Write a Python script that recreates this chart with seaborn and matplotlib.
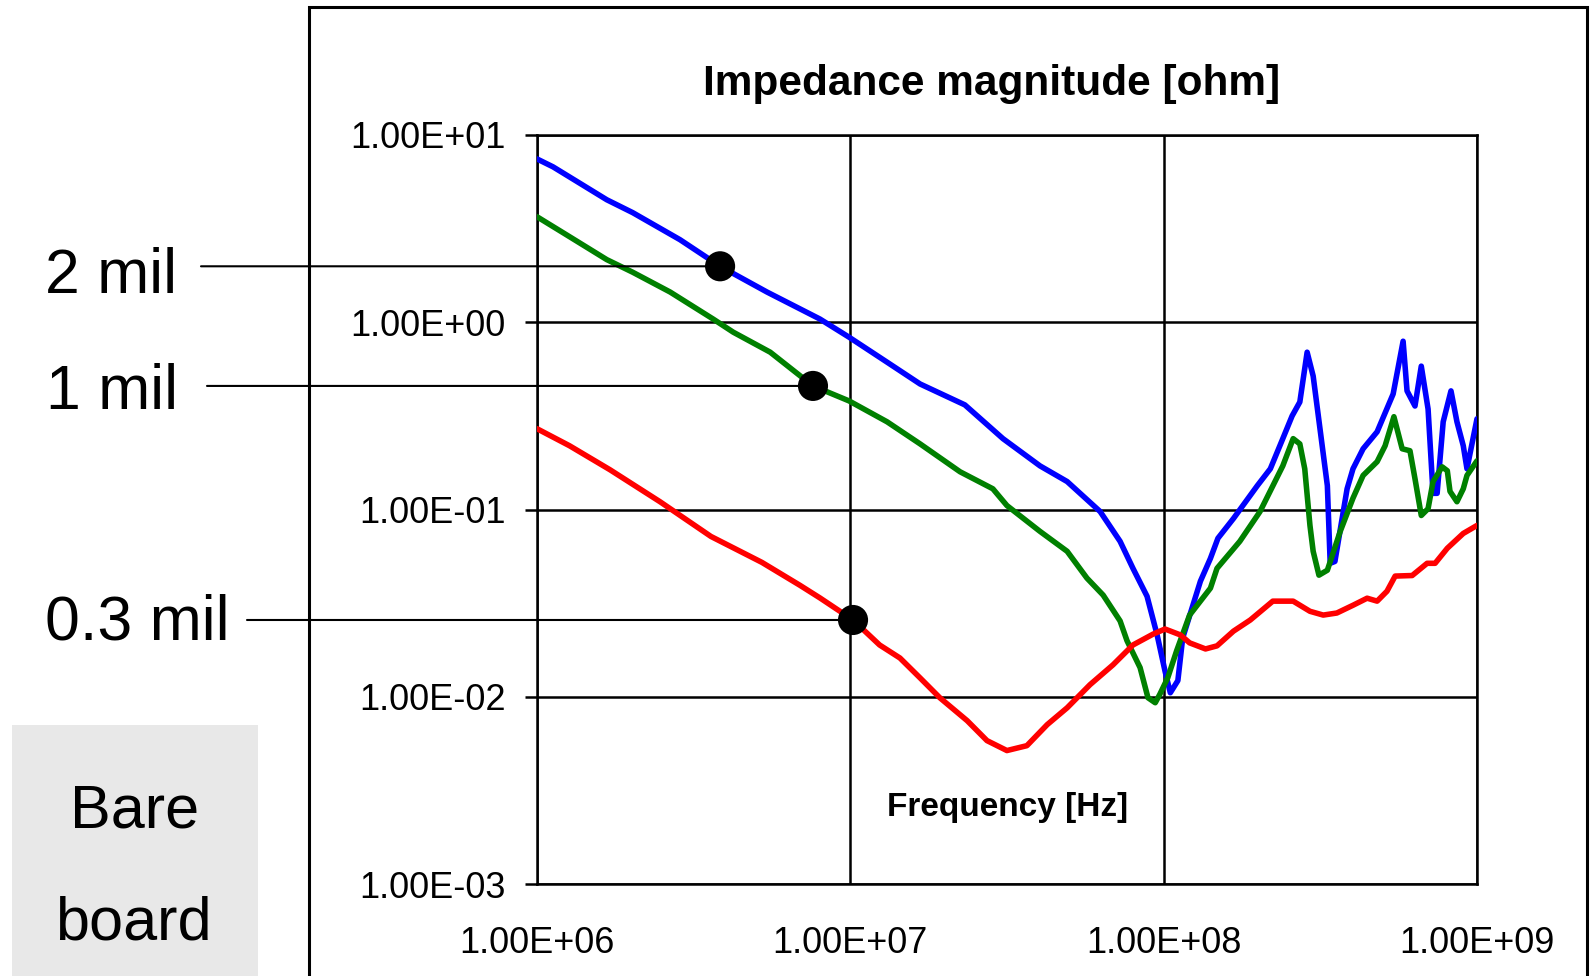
import matplotlib
matplotlib.use("Agg")
import matplotlib.pyplot as plt
from matplotlib.patches import Rectangle
from matplotlib.ticker import FixedLocator, FuncFormatter, NullLocator
import numpy as np
import pandas as pd
import seaborn as sns

# ---------------- data (frequency in MHz, impedance in ohm) ----------------
series_names = ["2 mil", "1 mil", "0.3 mil"]

freq_2mil = [1.00, 1.125, 1.67, 2.02, 2.86, 3.84, 5.42, 8.00, 9.91, 13.1, 16.7, 23.2,
             30.7, 40.3, 49.2, 62.7, 72.6, 79.8, 88.5, 95.3, 101, 105, 111, 115, 131,
             141, 149, 167, 179, 199, 219, 240, 257, 272, 287, 300, 333, 340, 352, 385,
             402, 433, 480, 540, 581, 598, 634, 664, 698, 724, 746, 780, 826, 863, 904,
             929, 1000]
z_2mil = [7.45, 6.76, 4.51, 3.85, 2.76, 1.99, 1.45, 1.04, 0.832, 0.612, 0.468, 0.362,
          0.239, 0.171, 0.141, 0.0975, 0.0676, 0.0485, 0.0344, 0.0214, 0.0137, 0.0105,
          0.0122, 0.0206, 0.0414, 0.0548, 0.0702, 0.0895, 0.105, 0.134, 0.165, 0.239,
          0.316, 0.375, 0.692, 0.516, 0.134, 0.0516, 0.0528, 0.129, 0.165, 0.211, 0.260,
          0.414, 0.792, 0.430, 0.357, 0.583, 0.344, 0.122, 0.122, 0.294, 0.430, 0.294,
          0.219, 0.165, 0.305]

freq_1mil = [1.00, 1.21, 1.67, 2.02, 2.66, 3.65, 4.23, 5.55, 7.60, 9.91, 13.1, 16.7,
             22.4, 28.5, 31.6, 40.3, 49.2, 56.9, 64.1, 72.6, 76.4, 84.1, 89.1, 94.0,
             97.2, 103, 110, 121, 141, 148, 175, 203, 240, 259, 272, 282, 293, 300, 313,
             333, 366, 402, 433, 480, 509, 543, 577, 611, 634, 664, 698, 724, 774, 804,
             820, 863, 904, 929, 1000]
z_1mil = [3.66, 3.01, 2.16, 1.85, 1.45, 1.04, 0.885, 0.692, 0.457, 0.380, 0.294, 0.224,
          0.159, 0.129, 0.105, 0.0764, 0.0598, 0.0430, 0.0349, 0.0254, 0.0199, 0.0143,
          0.00988, 0.00929, 0.0103, 0.0126, 0.0176, 0.0273, 0.0380, 0.0485, 0.0676,
          0.0975, 0.171, 0.239, 0.224, 0.165, 0.0822, 0.0598, 0.0446, 0.0474, 0.0764,
          0.115, 0.152, 0.180, 0.219, 0.313, 0.211, 0.206, 0.146, 0.0929, 0.101, 0.141,
          0.169, 0.161, 0.125, 0.110, 0.129, 0.152, 0.182]

freq_03mil = [1.00, 1.27, 1.71, 2.47, 3.59, 5.22, 6.90, 8.00, 10.2, 12.4, 14.4, 16.7,
              19.3, 23.6, 27.3, 31.6, 36.6, 42.5, 49.2, 58.2, 68.9, 79.8, 92.5, 101, 113,
              121, 136, 148, 167, 189, 223, 259, 293, 323, 357, 402, 446, 480, 516, 548,
              621, 693, 735, 804, 904, 1000]
z_03mil = [0.270, 0.219, 0.163, 0.110, 0.0718, 0.0522, 0.0394, 0.0337, 0.0257, 0.0189,
           0.0161, 0.0126, 0.00988, 0.00745, 0.00583, 0.00516, 0.00548, 0.00710, 0.00873,
           0.0116, 0.0148, 0.0189, 0.0216, 0.0230, 0.0214, 0.0194, 0.0180, 0.0187, 0.0224,
           0.0257, 0.0324, 0.0324, 0.0286, 0.0273, 0.0280, 0.0308, 0.0336, 0.0324, 0.0366,
           0.0441, 0.0444, 0.0516, 0.0516, 0.0621, 0.0745, 0.0822]

# marker dots on each curve (MHz, ohm)
dot_freq = [3.84, 7.60, 10.2]
dot_z = [1.99, 0.457, 0.0257]

x_ticks = [1e6, 1e7, 1e8, 1e9]
y_ticks = [1e-3, 1e-2, 1e-1, 1e0, 1e1]

title_text = "Impedance magnitude [ohm]"
xlabel_text = "Frequency [Hz]"
box_lines = ["Bare", "board"]

# ---------------- build long-form table ----------------
frames = []
for name, f, z in zip(series_names, [freq_2mil, freq_1mil, freq_03mil],
                      [z_2mil, z_1mil, z_03mil]):
    frames.append(pd.DataFrame({"freq": np.array(f) * 1e6, "z": z, "series": name}))
df = pd.concat(frames, ignore_index=True)
dots = pd.DataFrame({"freq": np.array(dot_freq) * 1e6, "z": dot_z, "series": series_names})

palette = {"2 mil": "#0000ff", "1 mil": "#008000", "0.3 mil": "#ff0000"}

# ---------------- figure ----------------
sns.set_style("white")
plt.rcParams["font.family"] = ["Liberation Sans", "DejaVu Sans"]
plt.rcParams["text.color"] = "black"
plt.rcParams["xtick.color"] = "black"
plt.rcParams["ytick.color"] = "black"
plt.rcParams["xtick.labelcolor"] = "black"
plt.rcParams["ytick.labelcolor"] = "black"

W, H = 1593, 976
fig = plt.figure(figsize=(W / 100, H / 100), dpi=100)
fig.patch.set_facecolor("white")

def fx(px):
    return px / W

def fy(py):
    return 1 - py / H

ax = fig.add_axes([fx(537), fy(884), (1477 - 537) / W, (884 - 135) / H])

sns.lineplot(data=df, x="freq", y="z", hue="series", hue_order=series_names,
             palette=palette, estimator=None, sort=False, lw=4.0, legend=False,
             ax=ax, zorder=3)
ax.set_xscale("log")
ax.set_yscale("log")
ax.set_xlim(1e6, 1e9)
ax.set_ylim(1e-3, 1e1)

sns.scatterplot(data=dots, x="freq", y="z", color="black", s=470, edgecolor="none",
                legend=False, ax=ax, zorder=6)

ax.xaxis.set_major_locator(FixedLocator(x_ticks))
ax.yaxis.set_major_locator(FixedLocator(y_ticks))
ax.xaxis.set_minor_locator(NullLocator())
ax.yaxis.set_minor_locator(NullLocator())
fmt = FuncFormatter(lambda v, p: f"{v:.2E}")
ax.xaxis.set_major_formatter(fmt)
ax.yaxis.set_major_formatter(fmt)
ax.tick_params(axis="x", length=0, pad=30, labelsize=26, colors="black")
ax.tick_params(axis="y", length=8.6, width=1.8, pad=14, labelsize=26, colors="black",
               direction="out", left=True)
ax.set_xlabel("")
ax.set_ylabel("")
ax.grid(True, which="major", color="black", lw=1.8)
ax.set_axisbelow(True)
for s in ax.spines.values():
    s.set_visible(True)
    s.set_color("black")
    s.set_linewidth(1.8)

# ---------------- titles ----------------
fig.text(fx(992), fy(95), title_text, ha="center", va="baseline",
         fontsize=30.5, fontweight="bold", color="black")
fig.text(fx(1008), fy(816), xlabel_text, ha="center", va="baseline",
         fontsize=24, fontweight="bold", color="black")

# ---------------- outer frame ----------------
fig.add_artist(Rectangle((fx(309), fy(990)), (1587 - 309) / W, (990 - 7) / H,
                         transform=fig.transFigure, fill=False, ec="black", lw=2.2,
                         clip_on=False, zorder=0))

# ---------------- leader lines and labels ----------------
label_x = [45, 46, 45]
label_base = [293, 409, 640]
line_start = [201, 207, 247]
for name, f, z, lx, lb, ls in zip(series_names, dot_freq, dot_z, label_x, label_base,
                                  line_start):
    ax.annotate("", xy=(f * 1e6, z), xycoords="data",
                xytext=(ls, z), textcoords=("figure pixels", "data"),
                arrowprops=dict(arrowstyle="-", color="black", lw=1.5,
                                shrinkA=0, shrinkB=0),
                annotation_clip=False, zorder=5)
    fig.text(fx(lx), fy(lb), name, ha="left", va="baseline", fontsize=45, color="black")

# ---------------- Bare board box ----------------
fig.add_artist(Rectangle((fx(12), fy(990)), (258 - 12) / W, (990 - 725) / H,
                         transform=fig.transFigure, fc="#e8e8e8", ec="none",
                         clip_on=False, zorder=0))
fig.text(fx(135), fy(827), box_lines[0], ha="center", va="baseline", fontsize=44,
         color="black")
fig.text(fx(133), fy(940), box_lines[1], ha="center", va="baseline", fontsize=44,
         color="black")

fig.savefig("out.png", dpi=100, facecolor="white")
